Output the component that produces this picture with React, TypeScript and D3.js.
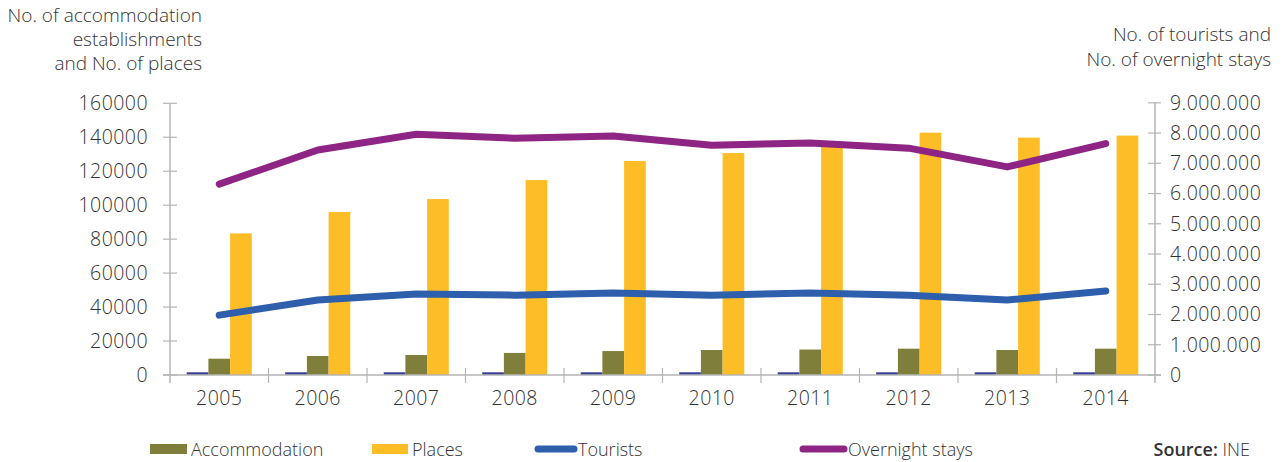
import React from "react";
import * as d3 from "d3";

const years = ["2005", "2006", "2007", "2008", "2009", "2010", "2011", "2012", "2013", "2014"];
const minorBar = [1600, 1600, 1600, 1600, 1600, 1600, 1600, 1600, 1600, 1600];
const accommodation = [9600, 11200, 11800, 13000, 14100, 14700, 15000, 15500, 14700, 15500];
const places = [83400, 96000, 103600, 114800, 126000, 130700, 137000, 142700, 139800, 141000];
const tourists = [1980000, 2480000, 2680000, 2640000, 2710000, 2640000, 2710000, 2640000, 2480000, 2780000];
const overnight = [6310000, 7440000, 7960000, 7830000, 7900000, 7600000, 7670000, 7500000, 6880000, 7650000];
const leftTicks = [0, 20000, 40000, 60000, 80000, 100000, 120000, 140000, 160000];
const rightTicks = [0, 1000000, 2000000, 3000000, 4000000, 5000000, 6000000, 7000000, 8000000, 9000000];

const W = 1283, H = 462;
const FONT = "'Open Sans', sans-serif";
const TXT = "#333333";
const AX = "#b5b5b5";
const NUM = { fontSize: 19.5, fontWeight: 300, letterSpacing: 0.45 } as const;

export default function App() {
  const x = d3.scaleBand<string>().domain(years).range([170, 1155]).padding(0);
  const yL = d3.scaleLinear().domain([0, 160000]).range([375, 103.3]);
  const yR = d3.scaleLinear().domain([0, 9000000]).range([375, 102.8]);
  const keys = ["m", "a", "p"];
  const x1 = d3.scaleBand<string>().domain(keys).range([0, x.bandwidth()]).paddingInner(0).paddingOuter(0.77);
  const barData: Record<string, number[]> = { m: minorBar, a: accommodation, p: places };
  const barColor: Record<string, string> = { m: "#3a3f97", a: "#7f7f3b", p: "#fdbd27" };
  const cx = (i: number) => (x(years[i]) as number) + x.bandwidth() / 2;
  const line = (vals: number[]) =>
    d3.line<number>().x((_, i) => cx(i)).y((v) => yR(v))(vals) as string;
  const fmtR = (v: number) => d3.format(",")(v).replace(/,/g, ".");

  return (
    <svg width={W} height={H} style={{ position: "absolute", left: 0, top: 0, fontFamily: FONT }}>
      {/* axis titles */}
      <g fill={TXT} fontSize={19} fontWeight={300} textAnchor="end">
        <text x={202} y={22}>No. of accommodation</text>
        <text x={202} y={46}>establishments</text>
        <text x={202} y={70}>and No. of places</text>
        <text x={1271} y={41}>No. of tourists and</text>
        <text x={1271} y={66}>No. of overnight stays</text>
      </g>

      {/* left axis */}
      <line x1={170} x2={170} y1={yL(160000)} y2={383} stroke={AX} strokeWidth={1.5} />
      {leftTicks.map((t) => (
        <g key={t}>
          <line x1={163} x2={177} y1={yL(t)} y2={yL(t)} stroke={AX} strokeWidth={1.2} />
          <text x={148} y={yL(t)} dy="0.35em" textAnchor="end" {...NUM} fill={TXT}>{t}</text>
        </g>
      ))}

      {/* right axis */}
      <line x1={1155} x2={1155} y1={yR(9000000)} y2={383} stroke={AX} strokeWidth={1.5} />
      {rightTicks.map((t) => (
        <g key={t}>
          <line x1={1148} x2={1161} y1={yR(t)} y2={yR(t)} stroke={AX} strokeWidth={1.2} />
          <text x={1170} y={yR(t)} dy="0.35em" textAnchor="start" {...NUM} fill={TXT}>{fmtR(t)}</text>
        </g>
      ))}

      {/* bars */}
      {years.map((yr, i) => (
        <g key={yr} transform={`translate(${x(yr)},0)`}>
          {keys.map((k) => (
            <rect key={k} x={x1(k)} width={x1.bandwidth()} y={yL(barData[k][i])}
              height={375 - yL(barData[k][i])} fill={barColor[k]} />
          ))}
        </g>
      ))}

      {/* x axis */}
      <line x1={163} x2={1161} y1={375} y2={375} stroke={AX} strokeWidth={1.5} />
      {years.map((yr, i) => (
        <g key={yr}>
          {i > 0 && <line x1={x(yr)} x2={x(yr)} y1={368} y2={383} stroke={AX} strokeWidth={1.2} />}
          <text x={cx(i)} y={405} textAnchor="middle" {...NUM} fill={TXT}>{yr}</text>
        </g>
      ))}

      {/* lines */}
      <path d={line(tourists)} fill="none" stroke="#2e5fac" strokeWidth={7} strokeLinecap="round" strokeLinejoin="round" />
      <path d={line(overnight)} fill="none" stroke="#8e2484" strokeWidth={7} strokeLinecap="round" strokeLinejoin="round" />

      {/* legend */}
      <g fontSize={18} fontWeight={300} fill={TXT}>
        <rect x={150} y={444} width={37} height={10} fill="#7f7f3b" />
        <text x={191} y={456}>Accommodation</text>
        <rect x={372} y={444} width={36} height={10} fill="#fdbd27" />
        <text x={412} y={456}>Places</text>
        <line x1={538} x2={574} y1={449} y2={449} stroke="#2e5fac" strokeWidth={7} strokeLinecap="round" />
        <text x={578} y={456}>Tourists</text>
        <line x1={803} x2={844} y1={449} y2={449} stroke="#8e2484" strokeWidth={7} strokeLinecap="round" />
        <text x={848} y={456}>Overnight stays</text>
        <text x={1250} y={456} textAnchor="end">
          <tspan fontWeight={600}>Source:</tspan> INE
        </text>
      </g>
    </svg>
  );
}
